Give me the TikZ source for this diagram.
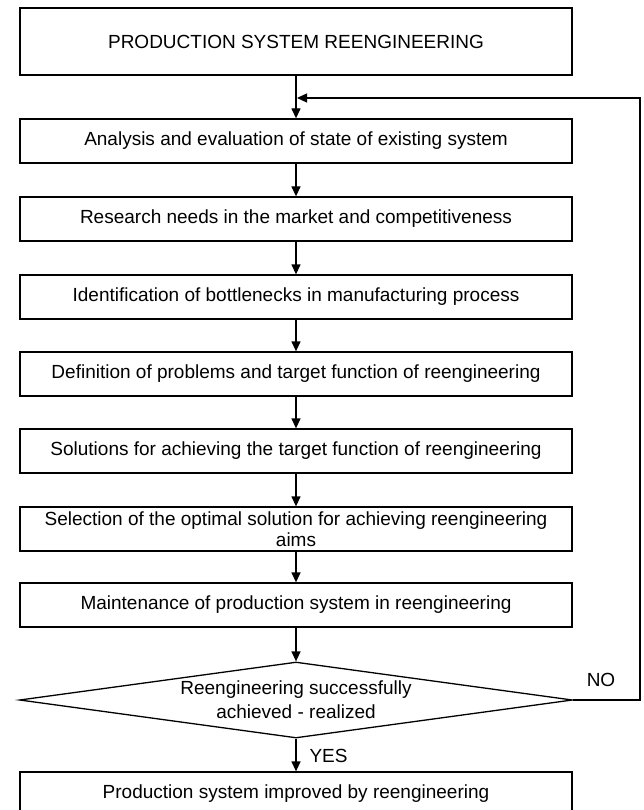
\documentclass[tikz,border=0pt]{standalone}
\usepackage{fontspec}
\setmainfont{Liberation Sans}
\usetikzlibrary{shapes.geometric,arrows.meta}
\begin{document}
\begin{tikzpicture}[x=1pt,y=-1pt,
    box/.style={draw,line width=1.3pt,minimum width=552pt,minimum height=44pt,inner sep=0pt,align=center,font=\fontsize{19}{21}\selectfont},
    flow/.style={-{Triangle[length=10pt,width=9pt]},line width=1.3pt}]
            \def\m{296}%trục giữa
            \useasboundingbox (0,0) rectangle (644,810);
            \node[box,minimum height=67pt] (title) at (\m,41.5) {PRODUCTION SYSTEM REENGINEERING};
            \foreach \n/\y/\t in {analysis/141/Analysis and evaluation of state of existing system,
                research/219/Research needs in the market and competitiveness,
                bottleneck/297/Identification of bottlenecks in manufacturing process,
                problem/374/Definition of problems and target function of reengineering,
                solution/451/Solutions for achieving the target function of reengineering,
                selection/529/Selection of the optimal solution for achieving reengineering\\aims,
                maintenance/605/Maintenance of production system in reengineering,
                improved/794/Production system improved by reengineering}
                \node[box] (\n) at (\m,\y) {\t};
            \node[draw,line width=1.3pt,shape=diamond,aspect=7.3,inner sep=0pt,minimum width=553pt,minimum height=76pt,align=center,font=\fontsize{19}{24}\selectfont] (check) at (\m,700) {Reengineering successfully\\achieved - realized};
            \foreach \a/\b in {title/analysis,analysis/research,research/bottleneck,bottleneck/problem,problem/solution,solution/selection,selection/maintenance,maintenance/check,check/improved} \draw[flow] (\a)--(\b);
            % vòng lặp NO
            \coordinate (loop) at (640,98);
            \coordinate (join) at (297,98);
            \draw[flow] (check.east) -| (loop) -- (join);
            \node[font=\fontsize{19}{21}\selectfont] (no) at (601,680) {NO};
            \node[font=\fontsize{19}{21}\selectfont,anchor=west] (yes) at (306,756) {YES};
        \end{tikzpicture}
\end{document}
